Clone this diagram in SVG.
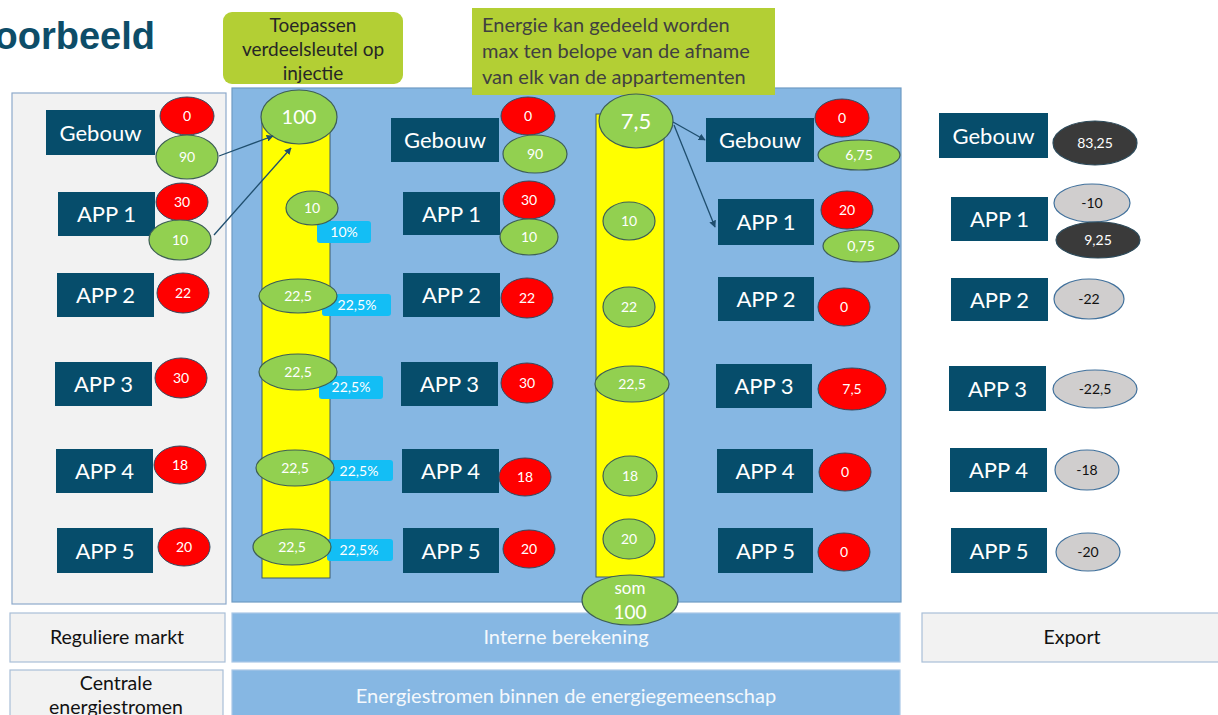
<svg xmlns="http://www.w3.org/2000/svg" width="1218" height="715" viewBox="0 0 1218 715">
<defs>
<style>
text{font-family:Lato,"Liberation Sans",sans-serif;text-anchor:middle}
.box{fill:#064d6b}
.lbl{font-size:22px;fill:#ffffff}
.red{fill:#ff0000;stroke:#34495e;stroke-width:1}
.grn{fill:#92d050;stroke:#3e5f55;stroke-width:1.2}
.gry{fill:#d0cece;stroke:#41719c;stroke-width:1.2}
.drk{fill:#3a3a3a;stroke:#2c4a5a;stroke-width:1.2}
.n{font-size:14px;fill:#ffffff}
.nb{font-size:14px;fill:#111111}
.pct{fill:#13bef5}
.pt{font-size:14px;fill:#ffffff}
.yel{fill:#ffff00;stroke:#3d5a6c;stroke-width:1}
.panelg{fill:#f2f2f2;stroke:#8eaacb;stroke-width:1.2}
.panelb{fill:#86b7e3;stroke:#6f9bc4;stroke-width:1.2}
.bg{fill:#f2f2f2;stroke:#a9bfd8;stroke-width:1.2}
.bb{fill:#86b7e3;stroke:#a9c7e6;stroke-width:1.2}
.bt{font-size:19.5px;fill:#111111}
.bw{font-size:20px;fill:#f4f8fc}
.c1{font-size:19px;fill:#262626}
.c2{font-size:20px;fill:#404040;text-anchor:start}
.arr{stroke:#1f4e6e;stroke-width:1.3;fill:none;marker-end:url(#ah)}
</style>
<marker id="ah" viewBox="0 0 10 10" refX="9" refY="5" markerWidth="7" markerHeight="7" orient="auto" markerUnits="userSpaceOnUse">
<path d="M0,0 L10,5 L0,10 z" fill="#1f4e6e"/>
</marker>
</defs>
<rect width="1218" height="715" fill="#ffffff"/>

<text x="155" y="49" style="text-anchor:end;font-family:'Liberation Sans',sans-serif;font-weight:bold;font-size:38px;fill:#0d4d68">Voorbeeld</text>

<!-- panels -->
<rect class="panelg" x="12" y="93" width="214" height="511"/>
<rect class="panelb" x="232" y="88" width="669" height="514"/>

<!-- callouts -->
<g id="callout1">
<rect x="223" y="12" width="180" height="72" rx="9" fill="#b3cf34"/>
<text class="c1" x="313" y="32">Toepassen</text>
<text class="c1" x="313" y="56">verdeelsleutel op</text>
<text class="c1" x="313" y="80">injectie</text>
</g>
<g id="callout2">
<rect x="472" y="8" width="303" height="87" fill="#b3cf34"/>
<text class="c2" x="482" y="32">Energie kan gedeeld worden</text>
<text class="c2" x="482" y="58">max ten belope van de afname</text>
<text class="c2" x="482" y="84">van elk van de appartementen</text>
</g>

<!-- yellow columns -->
<rect class="yel" x="262" y="118" width="68" height="460"/>
<rect class="yel" x="596" y="114" width="68" height="463"/>

<!-- left column -->
<g id="L-gebouw"><rect class="box" x="46" y="110" width="109" height="45"/><text class="lbl" x="100.5" y="140.5">Gebouw</text></g>
<g id="L-gebouw-afname"><ellipse class="red" cx="187" cy="116" rx="27" ry="19"/><text class="n" x="187" y="121">0</text></g>
<g id="L-gebouw-inj"><ellipse class="grn" cx="187" cy="157" rx="31" ry="22"/><text class="n" x="187" y="162">90</text></g>
<g id="L-app1"><rect class="box" x="58" y="192" width="97" height="44"/><text class="lbl" x="106.5" y="222">APP 1</text></g>
<g id="L-app1-afname"><ellipse class="red" cx="182" cy="202" rx="26" ry="19"/><text class="n" x="182" y="207">30</text></g>
<g id="L-app1-inj"><ellipse class="grn" cx="180" cy="240" rx="31" ry="20"/><text class="n" x="180" y="245">10</text></g>
<g id="L-app2"><rect class="box" x="57" y="273" width="97" height="44"/><text class="lbl" x="105.5" y="303">APP 2</text></g>
<g id="L-app2-afname"><ellipse class="red" cx="183" cy="293" rx="26" ry="20"/><text class="n" x="183" y="298">22</text></g>
<g id="L-app3"><rect class="box" x="55" y="362" width="97" height="44"/><text class="lbl" x="103.5" y="392">APP 3</text></g>
<g id="L-app3-afname"><ellipse class="red" cx="181" cy="378" rx="26" ry="20"/><text class="n" x="181" y="383">30</text></g>
<g id="L-app4"><rect class="box" x="56" y="449" width="97" height="44"/><text class="lbl" x="104.5" y="479">APP 4</text></g>
<g id="L-app4-afname"><ellipse class="red" cx="180" cy="465" rx="26" ry="19"/><text class="n" x="180" y="470">18</text></g>
<g id="L-app5"><rect class="box" x="57" y="528" width="96" height="45"/><text class="lbl" x="105" y="558.5">APP 5</text></g>
<g id="L-app5-afname"><ellipse class="red" cx="184" cy="547" rx="26" ry="19"/><text class="n" x="184" y="552">20</text></g>

<!-- column 1 (verdeelsleutel) -->
<g id="C1-total"><ellipse class="grn" cx="299" cy="117" rx="38" ry="27"/><text x="299" y="124" style="font-size:20px;fill:#ffffff">100</text></g>
<g id="C1-app1"><rect class="pct" x="317" y="221" width="54" height="22" rx="3"/><text class="pt" x="344" y="237">10%</text><ellipse class="grn" cx="312" cy="208" rx="26" ry="17"/><text class="n" x="312" y="213">10</text></g>
<g id="C1-app2"><rect class="pct" x="322" y="294" width="69" height="22" rx="3"/><text class="pt" x="357" y="310">22,5%</text><ellipse class="grn" cx="298" cy="296" rx="39" ry="17"/><text class="n" x="298" y="301">22,5</text></g>
<g id="C1-app3"><rect class="pct" x="319" y="376" width="64" height="23" rx="3"/><text class="pt" x="351" y="392">22,5%</text><ellipse class="grn" cx="298" cy="372" rx="39" ry="18"/><text class="n" x="298" y="377">22,5</text></g>
<g id="C1-app4"><rect class="pct" x="327" y="460" width="66" height="21" rx="3"/><text class="pt" x="359" y="476">22,5%</text><ellipse class="grn" cx="295" cy="468" rx="39" ry="18"/><text class="n" x="295" y="473">22,5</text></g>
<g id="C1-app5"><rect class="pct" x="327" y="539" width="66" height="22" rx="3"/><text class="pt" x="359" y="555">22,5%</text><ellipse class="grn" cx="292" cy="547" rx="39" ry="18"/><text class="n" x="292" y="552">22,5</text></g>

<!-- middle column -->
<g id="M-gebouw"><rect class="box" x="391" y="118" width="108" height="44"/><text class="lbl" x="445" y="148">Gebouw</text></g>
<g id="M-gebouw-afname"><ellipse class="red" cx="528" cy="116" rx="27" ry="19"/><text class="n" x="528" y="121">0</text></g>
<g id="M-gebouw-inj"><ellipse class="grn" cx="535" cy="154" rx="32" ry="19"/><text class="n" x="535" y="159">90</text></g>
<g id="M-app1"><rect class="box" x="403" y="192" width="97" height="43"/><text class="lbl" x="451.5" y="221.5">APP 1</text></g>
<g id="M-app1-afname"><ellipse class="red" cx="529" cy="200" rx="26" ry="19"/><text class="n" x="529" y="205">30</text></g>
<g id="M-app1-inj"><ellipse class="grn" cx="529" cy="237" rx="29" ry="18"/><text class="n" x="529" y="242">10</text></g>
<g id="M-app2"><rect class="box" x="403" y="273" width="97" height="44"/><text class="lbl" x="451.5" y="303">APP 2</text></g>
<g id="M-app2-afname"><ellipse class="red" cx="527" cy="298" rx="26" ry="20"/><text class="n" x="527" y="303">22</text></g>
<g id="M-app3"><rect class="box" x="401" y="362" width="97" height="44"/><text class="lbl" x="449.5" y="392">APP 3</text></g>
<g id="M-app3-afname"><ellipse class="red" cx="527" cy="383" rx="26" ry="20"/><text class="n" x="527" y="388">30</text></g>
<g id="M-app4"><rect class="box" x="402" y="449" width="97" height="44"/><text class="lbl" x="450.5" y="479">APP 4</text></g>
<g id="M-app4-afname"><ellipse class="red" cx="525" cy="477" rx="26" ry="19"/><text class="n" x="525" y="482">18</text></g>
<g id="M-app5"><rect class="box" x="403" y="528" width="96" height="45"/><text class="lbl" x="451" y="558.5">APP 5</text></g>
<g id="M-app5-afname"><ellipse class="red" cx="529" cy="549" rx="26" ry="19"/><text class="n" x="529" y="554">20</text></g>

<!-- column 2 (afname) -->
<g id="C2-rest"><ellipse class="grn" cx="636" cy="121" rx="37" ry="27"/><text x="636" y="129" style="font-size:22px;fill:#ffffff">7,5</text></g>
<g id="C2-app1"><ellipse class="grn" cx="629" cy="221" rx="26" ry="19"/><text class="n" x="629" y="226">10</text></g>
<g id="C2-app2"><ellipse class="grn" cx="629" cy="307" rx="26" ry="20"/><text class="n" x="629" y="312">22</text></g>
<g id="C2-app3"><ellipse class="grn" cx="632" cy="384" rx="37" ry="18"/><text class="n" x="632" y="389">22,5</text></g>
<g id="C2-app4"><ellipse class="grn" cx="630" cy="476" rx="27" ry="20"/><text class="n" x="630" y="481">18</text></g>
<g id="C2-app5"><ellipse class="grn" cx="629" cy="539" rx="26" ry="20"/><text class="n" x="629" y="544">20</text></g>

<!-- right-middle column -->
<g id="R-gebouw"><rect class="box" x="706" y="118" width="108" height="44"/><text class="lbl" x="760" y="148">Gebouw</text></g>
<g id="R-gebouw-afname"><ellipse class="red" cx="842" cy="118" rx="27" ry="19"/><text class="n" x="842" y="123">0</text></g>
<g id="R-gebouw-inj"><ellipse class="grn" cx="859" cy="155" rx="41" ry="15"/><text class="n" x="859" y="160">6,75</text></g>
<g id="R-app1"><rect class="box" x="718" y="199" width="96" height="46"/><text class="lbl" x="766" y="230">APP 1</text></g>
<g id="R-app1-afname"><ellipse class="red" cx="847" cy="210" rx="26" ry="19"/><text class="n" x="847" y="215">20</text></g>
<g id="R-app1-inj"><ellipse class="grn" cx="861" cy="246" rx="38" ry="16"/><text class="n" x="861" y="251">0,75</text></g>
<g id="R-app2"><rect class="box" x="718" y="277" width="96" height="44"/><text class="lbl" x="766" y="307">APP 2</text></g>
<g id="R-app2-afname"><ellipse class="red" cx="844" cy="307" rx="26" ry="19"/><text class="n" x="844" y="312">0</text></g>
<g id="R-app3"><rect class="box" x="716" y="364" width="96" height="44"/><text class="lbl" x="764" y="394">APP 3</text></g>
<g id="R-app3-afname"><ellipse class="red" cx="852" cy="389" rx="34" ry="21"/><text class="n" x="852" y="394">7,5</text></g>
<g id="R-app4"><rect class="box" x="717" y="449" width="96" height="44"/><text class="lbl" x="765" y="479">APP 4</text></g>
<g id="R-app4-afname"><ellipse class="red" cx="845" cy="472" rx="26" ry="19"/><text class="n" x="845" y="477">0</text></g>
<g id="R-app5"><rect class="box" x="718" y="528" width="95" height="45"/><text class="lbl" x="765.5" y="558.5">APP 5</text></g>
<g id="R-app5-afname"><ellipse class="red" cx="844" cy="552" rx="26" ry="19"/><text class="n" x="844" y="557">0</text></g>

<!-- export column -->
<g id="E-gebouw"><rect class="box" x="939" y="113" width="109" height="45"/><text class="lbl" x="993.5" y="143.5">Gebouw</text></g>
<g id="E-gebouw-val"><ellipse class="drk" cx="1095" cy="143" rx="42" ry="22"/><text class="n" x="1095" y="148">83,25</text></g>
<g id="E-app1"><rect class="box" x="951" y="197" width="97" height="44"/><text class="lbl" x="999.5" y="227">APP 1</text></g>
<g id="E-app1-val1"><ellipse class="gry" cx="1092" cy="203" rx="38" ry="19"/><text class="nb" x="1092" y="208">-10</text></g>
<g id="E-app1-val2"><ellipse class="drk" cx="1098" cy="240" rx="42" ry="18"/><text class="n" x="1098" y="245">9,25</text></g>
<g id="E-app2"><rect class="box" x="951" y="278" width="97" height="43"/><text class="lbl" x="999.5" y="307.5">APP 2</text></g>
<g id="E-app2-val"><ellipse class="gry" cx="1089" cy="299" rx="35" ry="20"/><text class="nb" x="1089" y="304">-22</text></g>
<g id="E-app3"><rect class="box" x="949" y="366" width="97" height="45"/><text class="lbl" x="997.5" y="396.5">APP 3</text></g>
<g id="E-app3-val"><ellipse class="gry" cx="1095" cy="389" rx="42" ry="19"/><text class="nb" x="1095" y="394">-22,5</text></g>
<g id="E-app4"><rect class="box" x="950" y="448" width="97" height="44"/><text class="lbl" x="998.5" y="478">APP 4</text></g>
<g id="E-app4-val"><ellipse class="gry" cx="1087" cy="470" rx="32" ry="20"/><text class="nb" x="1087" y="475">-18</text></g>
<g id="E-app5"><rect class="box" x="951" y="528" width="96" height="45"/><text class="lbl" x="999" y="558.5">APP 5</text></g>
<g id="E-app5-val"><ellipse class="gry" cx="1088" cy="552" rx="32" ry="19"/><text class="nb" x="1088" y="557">-20</text></g>

<!-- connectors -->
<g id="connectors">
<line class="arr" x1="219" y1="156" x2="273" y2="136"/>
<line class="arr" x1="214" y1="235" x2="291" y2="148"/>
<line class="arr" x1="673" y1="122" x2="705" y2="140"/>
<line class="arr" x1="674" y1="125" x2="715" y2="227"/>
</g>

<!-- bottom legend -->
<g id="legend-regulier"><rect class="bg" x="10" y="613" width="215" height="49"/><text class="bt" x="117" y="644">Reguliere markt</text></g>
<g id="legend-intern"><rect class="bb" x="232" y="613" width="668" height="49"/><text class="bw" x="566" y="644">Interne berekening</text></g>
<g id="legend-export"><rect class="bg" x="922" y="613" width="300" height="49"/><text class="bt" x="1072" y="644">Export</text></g>
<g id="legend-centraal"><rect class="bg" x="10" y="670" width="213" height="52"/><text class="bt" x="116" y="690">Centrale</text><text class="bt" x="116" y="714">energiestromen</text></g>
<g id="legend-gemeenschap"><rect class="bb" x="232" y="670" width="668" height="52"/><text class="bw" x="566" y="703">Energiestromen binnen de energiegemeenschap</text></g>

<!-- som ellipse drawn above the legend bar -->
<g id="C2-som"><ellipse class="grn" cx="630" cy="600" rx="48" ry="25"/><text x="630" y="594" style="font-size:17px;fill:#ffffff">som</text><text x="630" y="619" style="font-size:19px;fill:#ffffff">100</text></g>
</svg>
